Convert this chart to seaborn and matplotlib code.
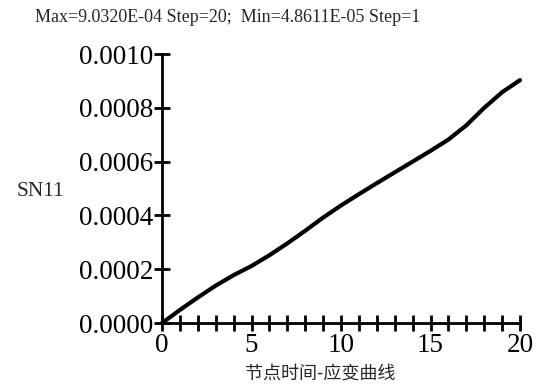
import numpy as np
import pandas as pd
import matplotlib
matplotlib.use("Agg")
import matplotlib.pyplot as plt
import seaborn as sns
from matplotlib.ticker import MultipleLocator, FormatStrFormatter

# node time steps and strain SN11 values
steps = list(range(0, 21))
sn11 = [0.0, 0.0000486, 0.000095, 0.000139, 0.000178, 0.000212, 0.000252,
        0.000296, 0.000343, 0.000392, 0.000437, 0.000479, 0.000520, 0.000560,
        0.000600, 0.000640, 0.000682, 0.000735, 0.000800, 0.000858, 0.000903]

title_text = "Max=9.0320E-04 Step=20;  Min=4.8611E-05 Step=1"
y_label = "SN11"
x_label = "节点时间-应变曲线"

df = pd.DataFrame({"Step": steps, "SN11": sn11})

sns.set_style("ticks")
plt.rcParams["font.family"] = ["Liberation Serif", "DejaVu Serif"]

fig = plt.figure(figsize=(5.37, 3.85), dpi=100)
ax = fig.add_axes([0.3017, 0.161, 0.6667, 0.6987])

sns.lineplot(data=df, x="Step", y="SN11", ax=ax, color="black", linewidth=3,
             clip_on=False)

ax.set_xlim(0, 20)
ax.set_ylim(0, 0.001)
ax.xaxis.set_major_locator(MultipleLocator(5))
ax.xaxis.set_minor_locator(MultipleLocator(1))
ax.yaxis.set_major_locator(MultipleLocator(0.0002))
ax.yaxis.set_major_formatter(FormatStrFormatter("%.4f"))

for side in ["top", "right"]:
    ax.spines[side].set_visible(False)
for side in ["left", "bottom"]:
    ax.spines[side].set_linewidth(2)
    ax.spines[side].set_color("black")

ax.tick_params(axis="y", which="major", direction="inout", length=12, width=2,
               labelsize=19.5, pad=0, colors="black")
ax.tick_params(axis="x", which="both", direction="inout", length=12, width=2,
               labelsize=19.5, pad=1, colors="black")

ax.set_xlabel("")
ax.set_ylabel("")

fig.text(35 / 537, 1 - 18 / 385, title_text, fontsize=13, ha="left",
         va="center", family=["Liberation Serif"])
fig.text(40 / 537, 1 - 192 / 385, y_label, fontsize=15.5, ha="center",
         va="center", family=["Liberation Serif"])
fig.text(320 / 537, 1 - 374 / 385, x_label, fontsize=13, ha="center",
         va="center", family=["Noto Sans CJK SC", "DejaVu Sans"])

fig.savefig("out.png", dpi=100)
